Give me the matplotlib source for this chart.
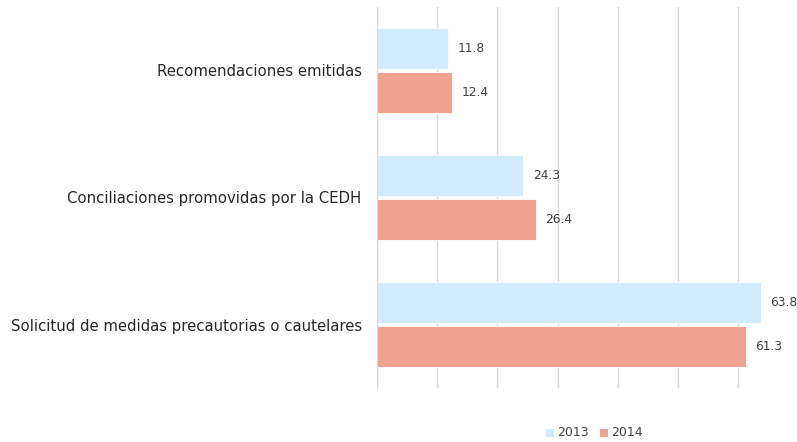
import matplotlib
matplotlib.use('Agg')
import matplotlib.pyplot as plt
import numpy as np

plt.rcParams['font.family'] = ['DejaVu Sans']

categories = ['Recomendaciones emitidas',
              'Conciliaciones promovidas por la CEDH',
              'Solicitud de medidas precautorias o cautelares']
years = ['2013', '2014']
values_2013 = [11.8, 24.3, 63.8]
values_2014 = [12.4, 26.4, 61.3]

color_2013 = '#CFEBFD'
color_2014 = '#F0A290'
text_color = '#404040'

fig = plt.figure(figsize=(7.97, 4.42), dpi=100)
ax = fig.add_axes([377 / 797, 1 - 388 / 442, 420 / 797, 381 / 442])

y = np.arange(len(categories))
h = 0.323
off = 0.173
b1 = ax.barh(y - off, values_2013, height=h, color=color_2013, edgecolor='white', linewidth=0.6, label=years[0])
b2 = ax.barh(y + off, values_2014, height=h, color=color_2014, edgecolor='white', linewidth=0.6, label=years[1])

for bars in (b1, b2):
    ax.bar_label(bars, labels=[f'{v:.1f}' for v in bars.datavalues], padding=7,
                 fontsize=8.8, color=text_color)

ax.set_ylim(2.5, -0.5)
ax.set_xlim(0, 69.8)
ax.set_xticks(range(0, 70, 10))
ax.set_xticklabels([])
ax.set_yticks(y)
ax.set_yticklabels(categories, fontsize=10.7, color='#262626')
ax.tick_params(axis='y', length=0, pad=11)
ax.tick_params(axis='x', length=0)
ax.grid(axis='x', color='#D9D9D9', linewidth=1)
ax.set_axisbelow(True)
for s in ['top', 'right', 'bottom']:
    ax.spines[s].set_visible(False)
ax.spines['left'].set_color('#D9D9D9')

fig.legend(handles=[b1, b2], labels=years, loc='center', bbox_to_anchor=(594 / 797, 1 - 433 / 442),
           ncol=2, frameon=False, fontsize=9, handlelength=0.7, handleheight=0.7,
           handletextpad=0.3, columnspacing=0.8, labelcolor=text_color)

fig.savefig('out.png', dpi=100)
